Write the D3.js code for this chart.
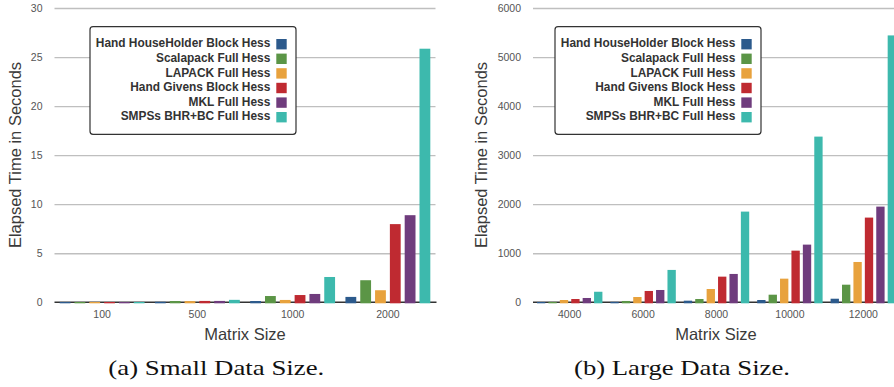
<!DOCTYPE html>
<html><head><meta charset="utf-8">
<script src="https://cdn.jsdelivr.net/npm/d3@7"></script>
<style>body{margin:0;background:#fff;overflow:hidden} svg{display:block}</style>
</head><body><svg id="c" width="894" height="387"></svg>
<script>
// ---- data ----
const seriesNames = ["Hand HouseHolder Block Hess","Scalapack Full Hess","LAPACK Full Hess","Hand Givens Block Hess","MKL Full Hess","SMPSs BHR+BC Full Hess"];
const seriesColors = ["#2c5a8c","#5b9546","#e8a23d","#bf2a31","#6f3c7d","#3db9ad"];

const smallSizes = ["100","500","1000","2000"];
const smallHandHouseholder = [0.03, 0.05, 0.13, 0.55];
const smallScalapack       = [0.03, 0.13, 0.64, 2.25];
const smallLapack          = [0.03, 0.12, 0.24, 1.23];
const smallHandGivens      = [0.03, 0.14, 0.74, 7.97];
const smallMKL             = [0.03, 0.14, 0.85, 8.88];
const smallSMPSs           = [0.03, 0.25, 2.58, 25.85];
const smallTicks = [0,5,10,15,20,25,30];

const largeSizes = ["4000","6000","8000","10000","12000"];
const largeHandHouseholder = [6, 8, 33, 47, 73];
const largeScalapack       = [7, 27, 67, 155, 359];
const largeLapack          = [47, 108, 271, 482, 822];
const largeHandGivens      = [67, 231, 523, 1053, 1727];
const largeMKL             = [88, 251, 578, 1176, 1951];
const largeSMPSs           = [215, 660, 1849, 3378, 5441];
const largeTicks = [0,1000,2000,3000,4000,5000,6000];

const yTitle = "Elapsed Time in Seconds";
const xTitle = "Matrix Size";
const captions = ["(a) Small Data Size.", "(b) Large Data Size."];

// ---- drawing ----
const svg = d3.select("#c");
const sans = "'Liberation Sans', Arial, Helvetica, sans-serif";

function panel(o) {
  const g = svg.append("g");
  const x0 = d3.scaleBand().domain(o.sizes).range([o.left, o.right]);
  const x1 = d3.scaleBand().domain(d3.range(seriesNames.length))
    .range([0, x0.bandwidth()]).paddingInner(0.27).paddingOuter(0.35);
  const y = d3.scaleLinear().domain([0, o.max]).range([302.3, 8]);

  // grid + y labels
  const ya = g.append("g").attr("transform", `translate(${o.left},0)`)
    .call(d3.axisLeft(y).tickValues(o.ticks).tickSize(-(o.right - o.left)).tickPadding(12).tickFormat(d3.format("d")));
  ya.select(".domain").remove();
  ya.selectAll(".tick line").attr("stroke", "#bfbfbf").attr("stroke-width", 1.3);
  ya.selectAll(".tick text").attr("fill", "#555").style("font-family", sans).style("font-size", "10.5px");
  ya.selectAll(".tick").filter(d => d === 0).select("line").remove();

  // baseline
  g.append("line").attr("x1", o.left).attr("x2", o.right + 1)
    .attr("y1", y(0)).attr("y2", y(0)).attr("stroke", "#333").attr("stroke-width", 1.6);

  // bars
  const groups = g.selectAll(".grp").data(o.sizes).join("g")
    .attr("transform", d => `translate(${x0(d)},0)`);
  groups.selectAll("rect").data((d, i) => o.values.map((s, k) => ({k, v: s[i]}))).join("rect")
    .attr("x", d => x1(d.k)).attr("width", x1.bandwidth())
    .attr("y", d => y(d.v)).attr("height", d => y(0) - y(d.v) + 1)
    .attr("fill", d => seriesColors[d.k]);

  // x axis labels
  const xa = g.append("g").attr("transform", `translate(0,${y(0)})`)
    .call(d3.axisBottom(x0).tickSize(0).tickPadding(8));
  xa.select(".domain").remove();
  xa.selectAll(".tick text").attr("fill", "#555").style("font-family", sans).style("font-size", "10.5px");

  // titles
  g.append("text").attr("transform", `translate(${o.ytx},155) rotate(-90)`)
    .attr("text-anchor", "middle").attr("dy", "0.35em")
    .style("font-family", sans).style("font-size", "16.5px").attr("fill", "#3a3a3a").text(yTitle);
  g.append("text").attr("x", o.xtx).attr("y", 340)
    .attr("text-anchor", "middle")
    .style("font-family", sans).style("font-size", "16.5px").attr("fill", "#3a3a3a").text(xTitle);
  g.append("text").attr("x", o.capx).attr("y", 375)
    .attr("text-anchor", "middle").attr("textLength", 216).attr("lengthAdjust", "spacingAndGlyphs")
    .style("font-family", "'Liberation Serif', 'Times New Roman', serif").style("font-size", "22px")
    .attr("fill", "#111").text(o.caption);

  // legend
  const lg = g.append("g");
  lg.append("rect").attr("x", o.legX).attr("y", 26.7).attr("width", 206).attr("height", 107.6)
    .attr("rx", 3).attr("fill", "#fff").attr("stroke", "#333").attr("stroke-width", 1.2);
  const rows = lg.selectAll(".row").data(seriesNames).join("g")
    .attr("transform", (d, i) => `translate(0,${39 + i * 14.6})`);
  rows.append("rect").attr("x", o.legX + 186.3).attr("y", 0).attr("width", 10.4).attr("height", 10.4)
    .attr("fill", (d, i) => seriesColors[i]);
  rows.append("text").attr("x", o.legX + 180.3).attr("y", 8.4).attr("text-anchor", "end")
    .style("font-family", sans).style("font-size", "11.9px").style("font-weight", "bold")
    .attr("fill", "#333").text(d => d);
}

panel({sizes: smallSizes, values: [smallHandHouseholder, smallScalapack, smallLapack, smallHandGivens, smallMKL, smallSMPSs],
  left: 54.5, right: 435.5, max: 30, ticks: smallTicks, ytx: 15, xtx: 245, capx: 216.3, legX: 90, caption: captions[0]});
panel({sizes: largeSizes, values: [largeHandHouseholder, largeScalapack, largeLapack, largeHandGivens, largeMKL, largeSMPSs],
  left: 533, right: 900, max: 6000, ticks: largeTicks, ytx: 481, xtx: 716, capx: 682, legX: 555, caption: captions[1]});
</script>
</body></html>
